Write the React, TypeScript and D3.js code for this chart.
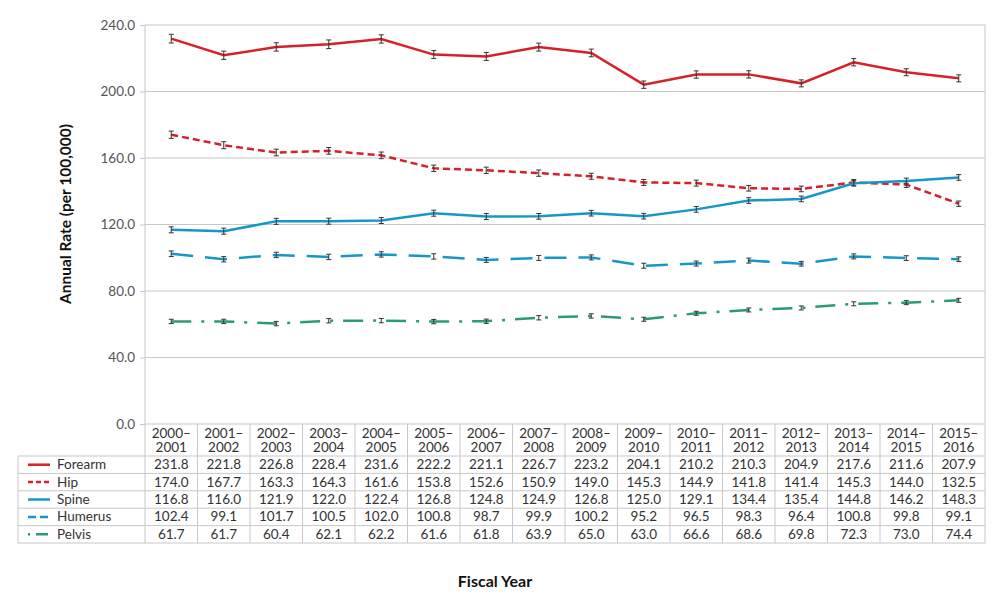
import React, { useEffect, useRef } from "react";
import * as d3 from "d3";

const years = [
  "2000–2001", "2001–2002", "2002–2003", "2003–2004", "2004–2005", "2005–2006",
  "2006–2007", "2007–2008", "2008–2009", "2009–2010", "2010–2011", "2011–2012",
  "2012–2013", "2013–2014", "2014–2015", "2015–2016",
];

const forearm = [231.8, 221.8, 226.8, 228.4, 231.6, 222.2, 221.1, 226.7, 223.2, 204.1, 210.2, 210.3, 204.9, 217.6, 211.6, 207.9];
const hip = [174.0, 167.7, 163.3, 164.3, 161.6, 153.8, 152.6, 150.9, 149.0, 145.3, 144.9, 141.8, 141.4, 145.3, 144.0, 132.5];
const spine = [116.8, 116.0, 121.9, 122.0, 122.4, 126.8, 124.8, 124.9, 126.8, 125.0, 129.1, 134.4, 135.4, 144.8, 146.2, 148.3];
const humerus = [102.4, 99.1, 101.7, 100.5, 102.0, 100.8, 98.7, 99.9, 100.2, 95.2, 96.5, 98.3, 96.4, 100.8, 99.8, 99.1];
const pelvis = [61.7, 61.7, 60.4, 62.1, 62.2, 61.6, 61.8, 63.9, 65.0, 63.0, 66.6, 68.6, 69.8, 72.3, 73.0, 74.4];

// approximate 95% CI half-widths
const forearmErr = [2.6, 2.5, 2.5, 2.6, 2.5, 2.4, 2.4, 2.4, 2.3, 2.2, 2.2, 2.2, 2.1, 2.2, 2.1, 2.1];
const hipErr = [2.2, 2.1, 2.0, 2.0, 2.0, 1.9, 1.9, 1.9, 1.8, 1.8, 1.8, 1.7, 1.7, 1.7, 1.7, 1.6];
const spineErr = [1.8, 1.8, 1.8, 1.8, 1.8, 1.8, 1.8, 1.7, 1.7, 1.7, 1.7, 1.7, 1.7, 1.7, 1.7, 1.7];
const humerusErr = [1.7, 1.6, 1.6, 1.6, 1.6, 1.6, 1.5, 1.5, 1.5, 1.5, 1.5, 1.5, 1.4, 1.5, 1.4, 1.4];
const pelvisErr = [1.3, 1.3, 1.3, 1.3, 1.3, 1.3, 1.3, 1.3, 1.3, 1.2, 1.2, 1.2, 1.2, 1.2, 1.2, 1.2];

const yTicks = [0, 40, 80, 120, 160, 200, 240];

const series = [
  { name: "Forearm", values: forearm, err: forearmErr, color: "#d6202a", dash: "", key: "" },
  { name: "Hip", values: hip, err: hipErr, color: "#d6202a", dash: "7,4", key: "5,3" },
  { name: "Spine", values: spine, err: spineErr, color: "#1598c8", dash: "", key: "" },
  { name: "Humerus", values: humerus, err: humerusErr, color: "#1598c8", dash: "22,12", key: "8,4" },
  { name: "Pelvis", values: pelvis, err: pelvisErr, color: "#2a9a78", dash: "20,10,3,10", key: "2,6,12,4" },
];

const W = 1000;
const H = 611;
const left = 145;
const right = 985;
const top = 25;
const bottom = 424;
const font = "Lato, 'Open Sans', sans-serif";

const App: React.FC = () => {
  const svgRef = useRef<SVGSVGElement | null>(null);

  useEffect(() => {
    const svg = d3.select(svgRef.current);
    svg.selectAll("*").remove();

    const x = d3.scaleBand<string>().domain(years).range([left, right]);
    const y = d3.scaleLinear().domain([0, 240]).range([bottom, top]);
    const cx = (d: string) => (x(d) as number) + x.bandwidth() / 2;

    // gridlines
    svg.append("g")
      .selectAll("line")
      .data(yTicks)
      .enter()
      .append("line")
      .attr("x1", left)
      .attr("x2", right)
      .attr("y1", d => y(d))
      .attr("y2", d => y(d))
      .attr("stroke", "#c8c8c8")
      .attr("stroke-width", 1);

    // plot frame
    svg.append("line").attr("x1", left).attr("x2", left).attr("y1", top).attr("y2", bottom).attr("stroke", "#c8c8c8");
    svg.append("line").attr("x1", right).attr("x2", right).attr("y1", top).attr("y2", bottom).attr("stroke", "#c8c8c8");

    // y axis
    const yAxis = svg.append("g")
      .attr("transform", `translate(${left},0)`)
      .call(d3.axisLeft(y).tickValues(yTicks).tickFormat(d3.format(".1f")).tickSize(5).tickPadding(5));
    yAxis.select(".domain").remove();
    yAxis.selectAll("line").attr("stroke", "#c8c8c8");
    yAxis.selectAll("text")
      .attr("fill", "#555")
      .attr("font-size", "13.5px")
      .attr("font-family", font);

    svg.append("text")
      .attr("transform", `translate(71,214) rotate(-90)`)
      .attr("text-anchor", "middle")
      .attr("font-family", font)
      .attr("font-weight", "bold")
      .attr("font-size", "15.5px")
      .attr("fill", "#111")
      .text("Annual Rate (per 100,000)");

    // lines
    const line = d3.line<number>()
      .x((_, i) => cx(years[i]))
      .y(d => y(d));

    series.forEach(s => {
      svg.append("path")
        .datum(s.values)
        .attr("d", line)
        .attr("fill", "none")
        .attr("stroke", s.color)
        .attr("stroke-width", 2.5)
        .attr("stroke-dasharray", s.dash);

      const eb = svg.append("g").selectAll("g")
        .data(s.values.map((v, i) => ({ v, e: s.err[i], yr: years[i] })))
        .enter()
        .append("g");
      eb.append("line")
        .attr("x1", d => cx(d.yr)).attr("x2", d => cx(d.yr))
        .attr("y1", d => y(d.v - d.e)).attr("y2", d => y(d.v + d.e))
        .attr("stroke", "#333").attr("stroke-width", 1);
      [-1, 1].forEach(sign => {
        eb.append("line")
          .attr("x1", d => cx(d.yr) - 2.5).attr("x2", d => cx(d.yr) + 2.5)
          .attr("y1", d => y(d.v + sign * d.e)).attr("y2", d => y(d.v + sign * d.e))
          .attr("stroke", "#333").attr("stroke-width", 1);
      });
    });

    // data table
    const tableLeft = 18;
    const headerBottom = 456;
    const rowH = 17.4;
    const tableBottom = headerBottom + rowH * series.length;
    const tbl = svg.append("g");

    // vertical separators
    const vx = [left, ...years.map(d => (x(d) as number) + x.bandwidth())];
    tbl.selectAll("line.v")
      .data(vx)
      .enter()
      .append("line")
      .attr("class", "v")
      .attr("x1", d => d).attr("x2", d => d)
      .attr("y1", bottom).attr("y2", tableBottom)
      .attr("stroke", "#c8c8c8");
    tbl.append("line")
      .attr("x1", tableLeft).attr("x2", tableLeft)
      .attr("y1", headerBottom).attr("y2", tableBottom)
      .attr("stroke", "#c8c8c8");

    // horizontal separators
    const hy = d3.range(series.length + 1).map(i => headerBottom + i * rowH);
    tbl.selectAll("line.h")
      .data(hy)
      .enter()
      .append("line")
      .attr("class", "h")
      .attr("x1", tableLeft).attr("x2", right)
      .attr("y1", d => d).attr("y2", d => d)
      .attr("stroke", "#c8c8c8");

    // header
    const hdr = tbl.selectAll("text.hdr")
      .data(years)
      .enter()
      .append("text")
      .attr("class", "hdr")
      .attr("text-anchor", "middle")
      .attr("font-family", font)
      .attr("font-size", "13.5px")
      .attr("fill", "#333");
    hdr.append("tspan").attr("x", d => cx(d)).attr("y", 438).text(d => d.split("–")[0] + "–");
    hdr.append("tspan").attr("x", d => cx(d)).attr("y", 452).text(d => d.split("–")[1]);

    // rows
    series.forEach((s, r) => {
      const ry = headerBottom + r * rowH + rowH / 2;
      tbl.append("line")
        .attr("x1", 28).attr("x2", 50)
        .attr("y1", ry).attr("y2", ry)
        .attr("stroke", s.color)
        .attr("stroke-width", 2.5)
        .attr("stroke-dasharray", s.key);
      tbl.append("text")
        .attr("x", 57).attr("y", ry + 4.5)
        .attr("font-family", font).attr("font-size", "13.5px").attr("fill", "#333")
        .text(s.name);
      tbl.selectAll(`text.v${r}`)
        .data(s.values)
        .enter()
        .append("text")
        .attr("class", `v${r}`)
        .attr("x", (_, i) => cx(years[i]))
        .attr("y", ry + 4.5)
        .attr("text-anchor", "middle")
        .attr("font-family", font).attr("font-size", "13.5px").attr("fill", "#333")
        .text(d => d.toFixed(1));
    });

    svg.append("text")
      .attr("x", 495).attr("y", 587)
      .attr("text-anchor", "middle")
      .attr("font-family", font)
      .attr("font-weight", "bold")
      .attr("font-size", "16px")
      .attr("fill", "#111")
      .text("Fiscal Year");
  }, []);

  return (
    <svg
      ref={svgRef}
      width={W}
      height={H}
      style={{ position: "absolute", left: 0, top: 0, background: "#fff" }}
    />
  );
};

export default App;
